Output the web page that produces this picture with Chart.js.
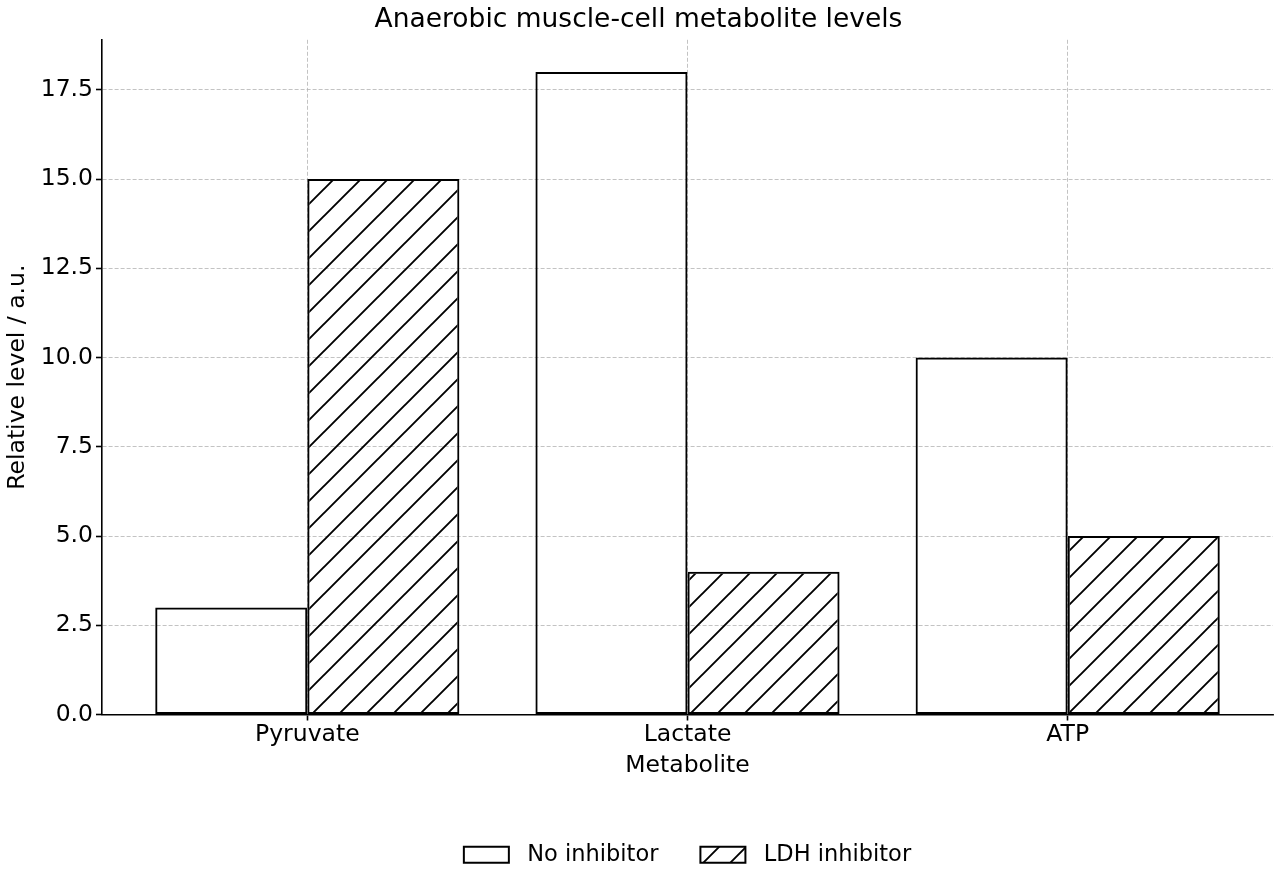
<!DOCTYPE html>
<html>
<head>
<meta charset="utf-8">
<script src="https://cdn.jsdelivr.net/npm/chart.js@4/dist/chart.umd.min.js"></script>
<style>
  body { margin: 0; background: #fff; }
  #chart { display: block; }
</style>
</head>
<body>
<canvas id="chart" width="1280" height="880"></canvas>
<script>
const categories = ["Pyruvate", "Lactate", "ATP"];
const noInhibitor = [3, 18, 10];
const ldhInhibitor = [15, 4, 5];
const yTicks = [0, 2.5, 5, 7.5, 10, 12.5, 15, 17.5];

// diagonal hatch like matplotlib "/"
function makeHatch() {
  const size = 27;
  const c = document.createElement("canvas");
  c.width = size;
  c.height = size;
  const g = c.getContext("2d");
  g.strokeStyle = "#000";
  g.lineWidth = 1.9;
  g.beginPath();
  g.moveTo(-2, size + 2);
  g.lineTo(size + 2, -2);
  g.moveTo(-2, 2);
  g.lineTo(2, -2);
  g.moveTo(size - 2, size + 2);
  g.lineTo(size + 2, size - 2);
  g.stroke();
  return g.createPattern(c, "repeat");
}

// center the legend under the plot area instead of the whole canvas
const centerLegend = {
  id: "centerLegend",
  afterLayout(chart) {
    const l = chart.legend;
    const a = chart.chartArea;
    const dx = (a.left + a.right) / 2 - (l.left + l.right) / 2;
    l.left += dx;
    l.right += dx;
  },
};

const font = "'DejaVu Sans', sans-serif";
const gridOpts = {
  color: "#b4b4b4",
  tickColor: "#000",
  tickBorderDash: [],
  tickLength: 6,
  lineWidth: 0.8,
  tickWidth: 1.6,
  offset: false,
};
const borderOpts = { display: true, color: "#000", width: 1.6, dash: [4, 2] };

const ctx = document.getElementById("chart").getContext("2d");

new Chart(ctx, {
  type: "bar",
  data: {
    datasets: [
      {
        label: " No inhibitor",
        data: categories.map((c, i) => ({ x: i, y: noInhibitor[i] })),
        backgroundColor: "rgba(255,255,255,0)",
        borderColor: "#000",
        borderWidth: 2,
        borderSkipped: false,
      },
      {
        label: " LDH inhibitor",
        data: categories.map((c, i) => ({ x: i, y: ldhInhibitor[i] })),
        backgroundColor: makeHatch(),
        borderColor: "#000",
        borderWidth: 2,
        borderSkipped: false,
      },
    ],
  },
  plugins: [centerLegend],
  options: {
    responsive: false,
    animation: false,
    categoryPercentage: 0.8,
    barPercentage: 1.0,
    layout: { padding: { left: 4, right: 7, top: 0, bottom: 4 } },
    plugins: {
      title: {
        display: true,
        text: "Anaerobic muscle-cell metabolite levels",
        color: "#000",
        font: { family: font, size: 26.5, weight: "normal" },
        padding: { top: 4, bottom: 4 },
      },
      legend: {
        position: "bottom",
        labels: {
          color: "#000",
          font: { family: font, size: 22.5 },
          boxWidth: 45,
          boxHeight: 16,
          padding: 42,
        },
      },
      tooltip: { enabled: false },
    },
    scales: {
      x: {
        type: "linear",
        offset: false,
        min: -0.54,
        max: 2.54,
        afterBuildTicks: (scale) => {
          scale.ticks = categories.map((c, i) => ({ value: i }));
        },
        afterFit: (scale) => {
          scale.height = 87;
        },
        ticks: {
          color: "#000",
          font: { family: font, size: 23.5 },
          padding: 0,
          callback: (v) => categories[v],
        },
        grid: gridOpts,
        border: borderOpts,
        title: {
          display: true,
          text: "Metabolite",
          color: "#000",
          font: { family: font, size: 23.5 },
          padding: { top: 0, bottom: 22 },
        },
      },
      y: {
        min: 0,
        max: 18.9,
        afterBuildTicks: (scale) => {
          scale.ticks = yTicks.map((v) => ({ value: v }));
        },
        afterFit: (scale) => {
          scale.width = 98;
        },
        ticks: {
          color: "#000",
          font: { family: font, size: 23.5 },
          padding: 3,
          callback: (v) => v.toFixed(1),
        },
        grid: gridOpts,
        border: borderOpts,
        title: {
          display: true,
          text: "Relative level / a.u.",
          color: "#000",
          font: { family: font, size: 23.5 },
          padding: { top: 0, bottom: 0 },
        },
      },
    },
  },
});
</script>
</body>
</html>
